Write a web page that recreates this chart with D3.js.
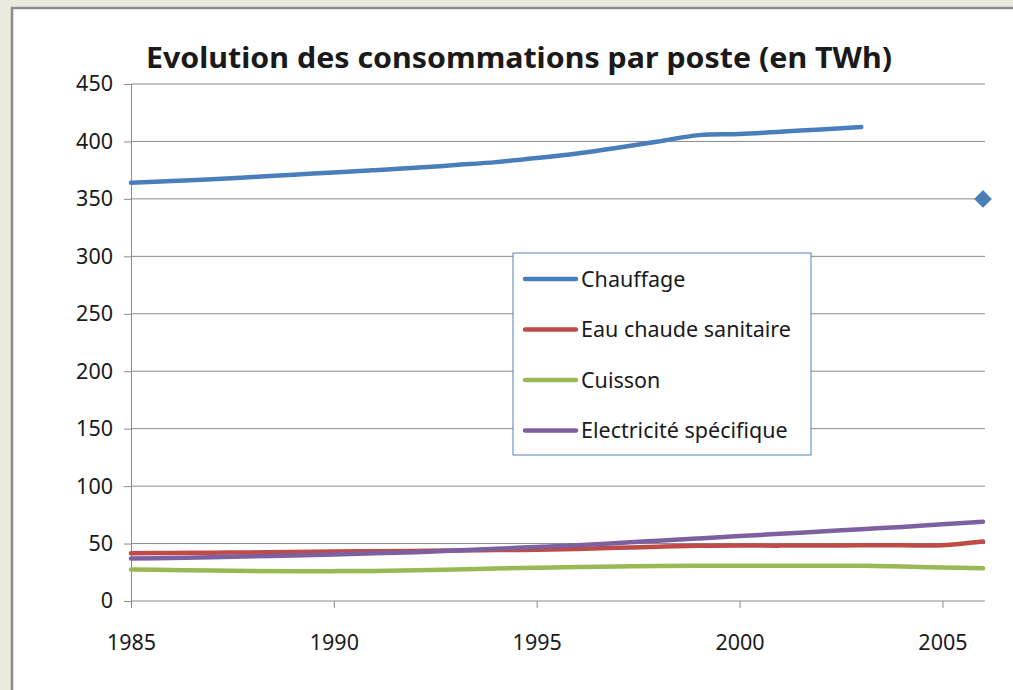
<!DOCTYPE html>
<meta charset="utf-8">
<style>
    body { margin: 0; background: #ece9df; }
    text { font-family: "Noto Sans", "Open Sans", sans-serif; fill: #1a1a1a; }
</style>
<body>
<script src="https://d3js.org/d3.v7.min.js"></script>
<script>

    var years = d3.range(1985, 2007);
    var chauffage = [364, 365.5, 367, 369, 371, 373, 375, 377, 379.5, 382, 385.5, 389.5, 394.5, 400, 405.5, 406.5, 408.5, 410.5, 412.5, null, null, null];
    var chauffage2006 = 350;
    var eauChaude = [41.5, 41.8, 42, 42.3, 42.6, 43, 43.3, 43.6, 44, 44.3, 44.6, 45.3, 46.3, 47.3, 48, 48.2, 48.2, 48.3, 48.5, 48.5, 48.6, 51.8];
    var cuisson = [27.5, 27, 26.5, 26.2, 26, 26, 26.2, 26.8, 27.5, 28.3, 29, 29.6, 30, 30.4, 30.6, 30.7, 30.7, 30.7, 30.6, 30, 29.2, 28.4];
    var electricite = [37, 37.5, 38, 39, 39.5, 40.5, 41.5, 42.5, 44, 45.5, 47, 48.5, 50.5, 52.5, 54.5, 56.5, 58.5, 60.5, 62.5, 64.5, 66.8, 69];
    var seriesNames = ["Chauffage", "Eau chaude sanitaire", "Cuisson", "Electricité spécifique"];
    var seriesColors = ["#4a7ebb", "#be4b48", "#98b954", "#7d60a0"];
    var yTicks = [0, 50, 100, 150, 200, 250, 300, 350, 400, 450];
    var xTicks = [1985, 1990, 1995, 2000, 2005];

    var W = 1013, H = 690;
    var svg = d3.select("body").append("svg")
        .attr("width", W)
        .attr("height", H);

    // chart frame
    svg.append("rect")
        .attr("x", 12).attr("y", 8)
        .attr("width", W + 10).attr("height", H + 10)
        .attr("fill", "#fff")
        .attr("stroke", "#8c8c8c")
        .attr("stroke-width", 2.5);

    var x = d3.scaleLinear().domain([1985, 2006]).range([131, 983]);
    var y = d3.scaleLinear().domain([0, 450]).range([601, 84]);

    // gridlines
    svg.append("g").selectAll("line")
        .data(yTicks.slice(1))
        .enter().append("line")
        .attr("x1", 131).attr("x2", 985)
        .attr("y1", function(d) { return y(d); })
        .attr("y2", function(d) { return y(d); })
        .attr("stroke", "#8a8a8a")
        .attr("stroke-width", 1);

    var yAxis = svg.append("g")
        .attr("transform", "translate(131,0)")
        .call(d3.axisLeft(y).tickValues(yTicks).tickSize(7).tickPadding(11));
    var xAxis = svg.append("g")
        .attr("transform", "translate(0,601)")
        .call(d3.axisBottom(x).tickValues(xTicks).tickFormat(d3.format("d")).tickSize(7).tickPadding(27));
    xAxis.select(".domain").attr("d", "M131,0H985");

    [yAxis, xAxis].forEach(function(ax) {
        ax.selectAll(".domain, .tick line").attr("stroke", "#8a8a8a");
        ax.selectAll("text").attr("font-size", 21.5).attr("font-family", "\"Noto Sans\", sans-serif").attr("fill", "#1a1a1a");
    });

    var line = d3.line()
        .defined(function(d) { return d[1] != null; })
        .x(function(d) { return x(d[0]); })
        .y(function(d) { return y(d[1]); })
        .curve(d3.curveCatmullRom);

    var allSeries = [chauffage, eauChaude, cuisson, electricite];
    allSeries.forEach(function(vals, i) {
        svg.append("path")
            .datum(years.map(function(yr, j) { return [yr, vals[j]]; }))
            .attr("fill", "none")
            .attr("stroke", seriesColors[i])
            .attr("stroke-width", 4.5)
            .attr("stroke-linecap", "round")
            .attr("d", line);
    });

    // isolated 2006 point for Chauffage
    svg.append("path")
        .attr("d", d3.symbol().type(d3.symbolDiamond2).size(200))
        .attr("transform", "translate(" + x(2006) + "," + y(chauffage2006) + ")")
        .attr("fill", seriesColors[0]);

    // title
    svg.append("text")
        .attr("x", 519).attr("y", 68)
        .attr("text-anchor", "middle")
        .attr("font-size", 29)
        .attr("font-weight", "bold")
        .attr("textLength", 746)
        .attr("lengthAdjust", "spacingAndGlyphs")
        .text("Evolution des consommations par poste (en TWh)");

    // legend
    var legend = svg.append("g").attr("transform", "translate(513,253)");
    legend.append("rect")
        .attr("width", 298).attr("height", 202)
        .attr("fill", "#fff")
        .attr("stroke", "#4f81bd")
        .attr("stroke-width", 1);
    var item = legend.selectAll(".item")
        .data(seriesNames)
        .enter().append("g")
        .attr("transform", function(d, i) { return "translate(0," + (26 + i * 50.5) + ")"; });
    item.append("line")
        .attr("x1", 12).attr("x2", 63)
        .attr("stroke", function(d, i) { return seriesColors[i]; })
        .attr("stroke-width", 4.5)
        .attr("stroke-linecap", "round");
    item.append("text")
        .attr("x", 68).attr("dy", "0.35em")
        .attr("font-size", 21.5)
        .text(function(d) { return d; });

</script>
